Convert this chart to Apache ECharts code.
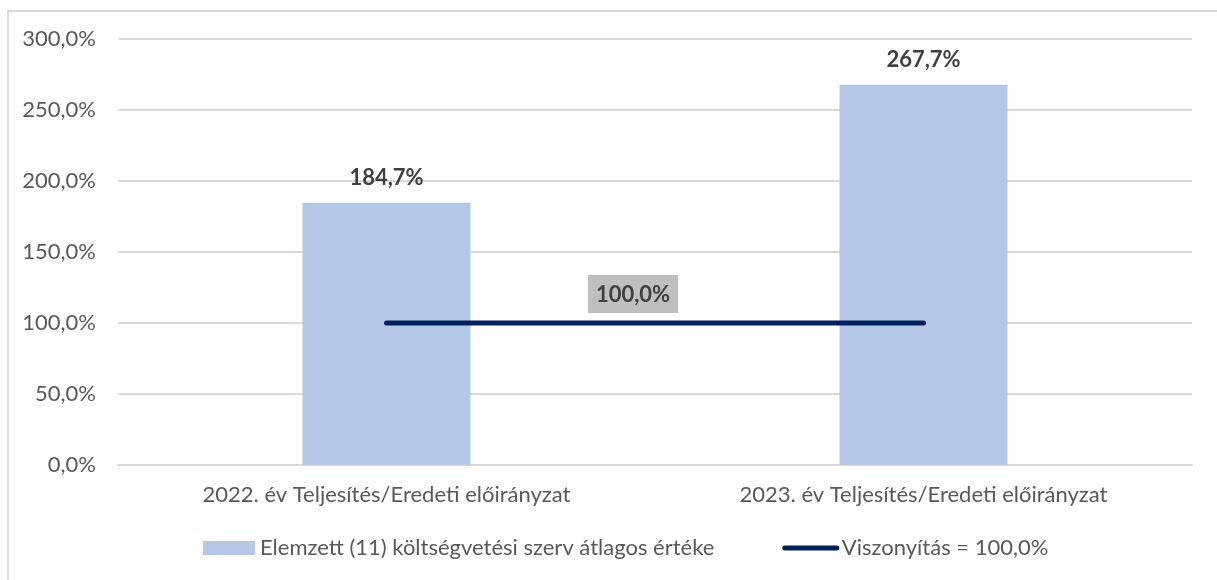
<!DOCTYPE html>
<html>
<head>
<meta charset="utf-8">
<script src="https://cdn.jsdelivr.net/npm/echarts@6/dist/echarts.min.js"></script>
<style>
  body { margin: 0; background: #fff; }
  #wrap { position: relative; width: 1217px; height: 580px; overflow: hidden; }
  #chart { width: 1217px; height: 580px; }
  #frame { position: absolute; left: 7px; top: 10px; width: 1240px; height: 600px;
           border: 2px solid #d9d9d9; pointer-events: none; }
</style>
</head>
<body>
<div id="wrap">
  <div id="chart"></div>
  <div id="frame"></div>
</div>
<script>
const categories = ['2022. év Teljesítés/Eredeti előirányzat', '2023. év Teljesítés/Eredeti előirányzat']
const barName = 'Elemzett (11) költségvetési szerv átlagos értéke'
const lineName = 'Viszonyítás = 100,0%'
const barValues = [184.7, 267.7]
const refValues = [100, 100]

const font = 'Lato'
const fs = 22
const pct = v => v.toFixed(1).replace('.', ',') + '%'

const chart = echarts.init(document.getElementById('chart'))
chart.setOption({
  animation: false,
  textStyle: { fontFamily: font },
  grid: { left: 118, right: 25, top: 39, bottom: 115, containLabel: false },
  legend: {
    bottom: 16,
    left: 198,
    itemGap: 68,
    itemWidth: 52,
    itemHeight: 14,
    textStyle: { fontFamily: font, fontSize: fs, color: '#595959' },
    data: [
      { name: barName, icon: 'rect' },
      {
        name: lineName,
        itemStyle: { opacity: 0 },
        lineStyle: { width: 5, cap: 'round', color: '#002060' }
      }
    ]
  },
  xAxis: {
    type: 'category',
    data: categories,
    axisTick: { show: false },
    axisLine: { lineStyle: { color: '#d9d9d9', width: 2 } },
    axisLabel: { margin: 19, fontSize: fs, color: '#595959', fontFamily: font }
  },
  yAxis: {
    type: 'value',
    min: 0,
    max: 300,
    interval: 50,
    axisLabel: { margin: 22, fontSize: fs, color: '#595959', fontFamily: font, formatter: pct },
    splitLine: { lineStyle: { color: '#d9d9d9', width: 2 } }
  },
  series: [
    {
      name: barName,
      type: 'bar',
      data: barValues,
      barWidth: 168,
      itemStyle: { color: '#b4c7e7' },
      label: {
        show: true,
        position: 'top',
        distance: 14,
        fontSize: fs,
        fontWeight: 'bold',
        color: '#404040',
        fontFamily: font,
        formatter: p => pct(p.value)
      }
    },
    {
      name: lineName,
      type: 'line',
      data: refValues,
      symbol: 'none',
      lineStyle: { color: '#002060', width: 5, cap: 'round' },
      itemStyle: { color: '#002060' },
      markLine: {
        silent: true,
        symbol: 'none',
        lineStyle: { color: 'rgba(0,0,0,0)', width: 0 },
        label: {
          show: true,
          position: 'middle',
          distance: 10,
          offset: [-22, 0],
          formatter: pct(refValues[0]),
          backgroundColor: '#bfbfbf',
          padding: [9, 8, 7, 8],
          fontSize: fs,
          fontWeight: 'bold',
          color: '#404040',
          fontFamily: font
        },
        data: [[{ coord: [categories[0], refValues[0]] }, { coord: [categories[1], refValues[1]] }]]
      }
    }
  ]
})
</script>
</body>
</html>
